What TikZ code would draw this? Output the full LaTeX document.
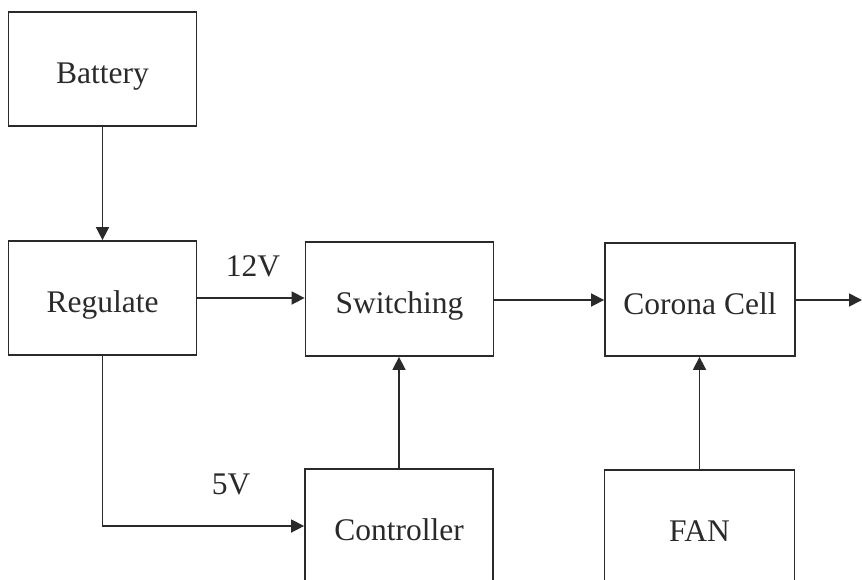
\documentclass[tikz,border=0pt]{standalone}
\usepackage{fontspec}
\setmainfont{Liberation Serif}
\usetikzlibrary{arrows.meta,calc}
\definecolor{ink}{HTML}{2A2A2A}
\tikzset{
  blockbox/.style={draw=ink, line width=1.8pt, minimum width=188pt, minimum height=114pt,
    inner sep=0pt, font=\fontsize{31.5}{34}\selectfont, text=ink,
    text height=29pt, text depth=0pt},
  conn/.style={draw=ink, line width=1.6pt, -{Triangle[length=13pt,width=13pt]}},
  lbl/.style={font=\fontsize{31.5}{34}\selectfont, text=ink, inner sep=0pt}
}
\begin{document}
\begin{tikzpicture}[x=1pt,y=-1pt]
\useasboundingbox[fill=white] (0,0) rectangle (862,579);
\node[blockbox] (bat) at (102.5,69) {Battery};
\node[blockbox] (reg) at (102.5,298) {Regulate};
\node[blockbox] (sw) at (399.5,299) {Switching};
\node[blockbox, minimum width=190pt, minimum height=113pt] (cc) at (700,299.5) {Corona Cell};
\node[blockbox] (ctrl) at (399,526) {Controller};
\node[blockbox, minimum width=190pt] (fan) at (699.5,527) {FAN};
\coordinate (out) at (862,300);
\draw[conn] (bat) -- (reg);
\draw[conn] (reg.east |- 0,298) -- (sw.west |- 0,298);
\draw[conn] (sw.east |- 0,300) -- (cc.west |- 0,300);
\draw[conn] (cc.east |- out) -- (out);
\draw[conn] (ctrl.north) -- (ctrl.north |- sw.south);
\draw[conn] (fan.north) -- (fan.north |- cc.south);
\draw[conn] (reg.south) |- (ctrl.west);
\node[lbl] (v12) at (253,266) {12V};
\node[lbl] (v5) at (231,484) {5V};
\end{tikzpicture}
\end{document}
